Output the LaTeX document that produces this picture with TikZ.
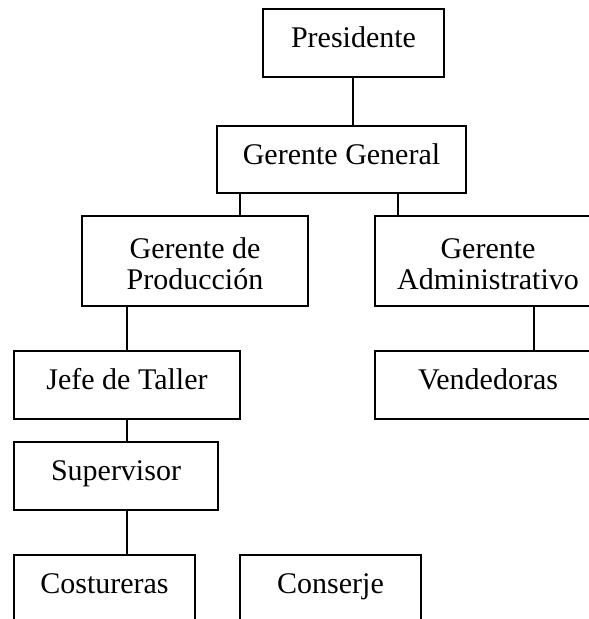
\documentclass[tikz,border=0pt]{standalone}
\usepackage{fontspec}
\setmainfont{Liberation Serif}

\tikzset{
    box/.style={draw, line width=1.8pt, inner sep=0pt, align=center,
        font=\fontsize{30}{31}\selectfont, text height=21pt, text depth=12pt},
    twoline/.style={text height=56pt, text depth=0pt},
    link/.style={line width=1.8pt}
}

\begin{document}
\begin{tikzpicture}[x=1pt,y=-1pt]
    \useasboundingbox (0,0) rectangle (589,619);

    % Upper levels
    \node[box, minimum width=181, minimum height=68] (pres) at (353.5,43) {Presidente};
    \node[box, minimum width=249, minimum height=67] (gg) at (341.5,159.5) {Gerente General};

    % Managers
    \node[box, twoline, minimum width=226, minimum height=90] (gp) at (195,261) {Gerente de\\Producción};
    \node[box, twoline, minimum width=226, minimum height=90] (ga) at (488,261) {Gerente\\Administrativo};

    % Lower levels
    \node[box, minimum width=226, minimum height=68] (jefe) at (127,385) {Jefe de Taller};
    \node[box, minimum width=226, minimum height=68] (vend) at (488,385) {Vendedoras};
    \node[box, minimum width=204, minimum height=68] (sup) at (116,476) {Supervisor};
    \node[box, minimum width=181, minimum height=68] (cost) at (104.5,589) {Costureras};
    \node[box, minimum width=181, minimum height=68] (cons) at (330.5,589) {Conserje};

    % Connecting lines
    \foreach \a/\b/\x in {pres/gg/353, gg/gp/240, gg/ga/398, gp/jefe/127,
                          ga/vend/534, jefe/sup/127, sup/cost/127} {
        \draw[link] (\a.south -| \x,0) -- (\b.north -| \x,0);
    }
\end{tikzpicture}
\end{document}
